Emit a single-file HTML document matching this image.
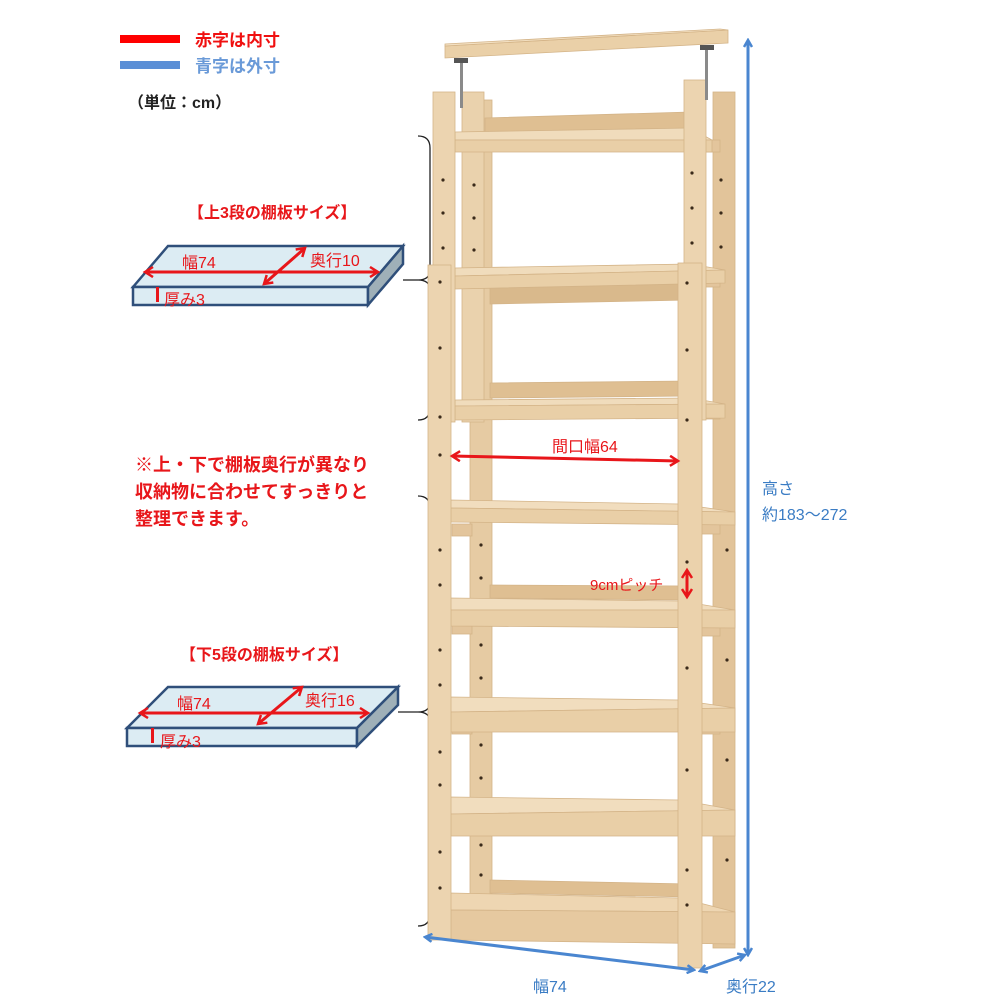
<!DOCTYPE html>
<html><head><meta charset="utf-8"><style>
html,body{margin:0;padding:0;background:#fff;}
svg{display:block;}
text{font-family:"Liberation Sans","Noto Sans CJK JP",sans-serif;}
</style></head><body>
<svg width="1000" height="1000" viewBox="0 0 1000 1000" xmlns="http://www.w3.org/2000/svg">
<defs>
<marker id="ab" markerWidth="10" markerHeight="10" refX="8" refY="5" orient="auto-start-reverse" markerUnits="userSpaceOnUse"><path d="M1,1 L8,5 L1,9" fill="none" stroke="#4a86d0" stroke-width="2.5"/></marker>
<marker id="ar" markerWidth="12" markerHeight="12" refX="9" refY="6" orient="auto-start-reverse" markerUnits="userSpaceOnUse"><path d="M1,1 L9,6 L1,11" fill="none" stroke="#e8161a" stroke-width="2.5"/></marker>
</defs>

<!-- legend -->
<rect x="120" y="35" width="60" height="8" fill="#f00"/>
<text x="195" y="46" font-size="17" font-weight="bold" fill="#f01010">赤字は内寸</text>
<rect x="120" y="61" width="60" height="8" fill="#5b8fd6"/>
<text x="195" y="72" font-size="17" font-weight="bold" fill="#6a9ad8">青字は外寸</text>
<text x="128" y="108" font-size="16" font-weight="bold" fill="#222">（単位：cm）</text>

<!-- upper board -->
<text x="188" y="218" font-size="16" font-weight="bold" fill="#e8161a">【上3段の棚板サイズ】</text>
<polygon points="133,287 168,246 403,246 368,287" fill="#dcecf3" stroke="#2f4f7a" stroke-width="2.5"/>
<polygon points="133,287 368,287 368,305 133,305" fill="#dcecf3" stroke="#2f4f7a" stroke-width="2.5"/>
<polygon points="368,287 403,246 403,264 368,305" fill="#9fb0b8" stroke="#2f4f7a" stroke-width="2.5"/>
<line x1="145" y1="272" x2="378" y2="272" stroke="#e8161a" stroke-width="3" marker-start="url(#ar)" marker-end="url(#ar)"/>
<line x1="264" y1="284" x2="305" y2="248" stroke="#e8161a" stroke-width="3" marker-start="url(#ar)" marker-end="url(#ar)"/>
<text x="182" y="268" font-size="16" fill="#e8161a">幅74</text>
<text x="310" y="266" font-size="16" fill="#e8161a">奥行10</text>
<rect x="156" y="287" width="3" height="15" fill="#e8161a"/>
<text x="164" y="305" font-size="16" fill="#e8161a">厚み3</text>
<path d="M418,136 Q430,136 430,148 L430,270 Q430,280 418,280 Q430,280 430,290 L430,408 Q430,420 418,420" fill="none" stroke="#222" stroke-width="1.3"/>
<line x1="403" y1="280" x2="418" y2="280" stroke="#222" stroke-width="1.3"/>

<!-- note -->
<text x="135" y="471" font-size="18" font-weight="bold" fill="#e8161a">※上・下で棚板奥行が異なり</text>
<text x="135" y="498" font-size="18" font-weight="bold" fill="#e8161a">収納物に合わせてすっきりと</text>
<text x="135" y="525" font-size="18" font-weight="bold" fill="#e8161a">整理できます。</text>

<!-- lower board -->
<text x="180" y="660" font-size="16" font-weight="bold" fill="#e8161a">【下5段の棚板サイズ】</text>
<polygon points="127,728 168,687 398,687 357,728" fill="#dcecf3" stroke="#2f4f7a" stroke-width="2.5"/>
<polygon points="127,728 357,728 357,746 127,746" fill="#dcecf3" stroke="#2f4f7a" stroke-width="2.5"/>
<polygon points="357,728 398,687 398,705 357,746" fill="#9fb0b8" stroke="#2f4f7a" stroke-width="2.5"/>
<line x1="140" y1="713" x2="368" y2="713" stroke="#e8161a" stroke-width="3" marker-start="url(#ar)" marker-end="url(#ar)"/>
<line x1="258" y1="724" x2="302" y2="687" stroke="#e8161a" stroke-width="3" marker-start="url(#ar)" marker-end="url(#ar)"/>
<text x="177" y="709" font-size="16" fill="#e8161a">幅74</text>
<text x="305" y="706" font-size="16" fill="#e8161a">奥行16</text>
<rect x="151" y="728" width="3" height="15" fill="#e8161a"/>
<text x="160" y="747" font-size="16" fill="#e8161a">厚み3</text>
<path d="M418,496 Q430,496 430,508 L430,702 Q430,712 418,712 Q430,712 430,722 L430,914 Q430,926 418,926" fill="none" stroke="#222" stroke-width="1.3"/>
<line x1="398" y1="712" x2="418" y2="712" stroke="#222" stroke-width="1.3"/>

<!-- SHELF -->
<g stroke="#d4b488" stroke-width="0.8">
<rect x="713" y="92" width="22" height="856" fill="#e2c49a"/>
<rect x="470" y="100" width="22" height="830" fill="#e6cba3"/>
<rect x="462" y="92" width="22" height="330" fill="#ead2ad"/>
<polygon points="485,118 690,112 690,128 485,134" fill="#dfbf92"/>
<polygon points="490,288 690,284 690,300 490,304" fill="#d9b98c"/>
<polygon points="490,383 690,381 690,396 490,398" fill="#dfbf92"/>
<polygon points="490,585 690,586 690,600 490,598" fill="#dfbf92"/>
<polygon points="490,880 690,884 690,897 490,893" fill="#dfbf92"/>
<g fill="#e3c59c">
<rect x="700" y="140" width="20" height="12"/>
<rect x="700" y="275" width="20" height="12"/>
<rect x="700" y="405" width="20" height="14"/>
<rect x="700" y="520" width="20" height="14"/>
<rect x="700" y="622" width="20" height="14"/>
<rect x="700" y="720" width="20" height="14"/>
<rect x="700" y="820" width="20" height="14"/>
<rect x="700" y="920" width="20" height="14"/>
<rect x="452" y="524" width="20" height="12"/>
<rect x="452" y="622" width="20" height="12"/>
<rect x="452" y="722" width="20" height="12"/>
<rect x="452" y="822" width="20" height="12"/>
<rect x="452" y="925" width="20" height="12"/>
</g>
<g>
<polygon points="455,132 690,128 712,140 455,140" fill="#f0dcbc"/>
<polygon points="455,140 712,140 712,152 455,152" fill="#e9cfa7"/>
<polygon points="455,268 690,264 725,270 455,276" fill="#f0dcbc"/>
<polygon points="455,276 725,270 725,283 455,289" fill="#e9cfa7"/>
<polygon points="455,400 690,398 725,404 455,406" fill="#f0dcbc"/>
<polygon points="455,406 725,404 725,418 455,420" fill="#e9cfa7"/>
<polygon points="450,500 680,504 735,512 450,508" fill="#f1ddbe"/>
<polygon points="450,508 735,512 735,525 450,522" fill="#e9cfa7"/>
<polygon points="450,598 680,601 735,610 450,610" fill="#f1ddbe"/>
<polygon points="450,610 735,610 735,628 450,626" fill="#e9cfa7"/>
<polygon points="450,697 680,700 735,708 450,712" fill="#f1ddbe"/>
<polygon points="450,712 735,708 735,732 450,732" fill="#e9cfa7"/>
<polygon points="450,797 680,800 735,810 450,814" fill="#f1ddbe"/>
<polygon points="450,814 735,810 735,836 450,836" fill="#e9cfa7"/>
<polygon points="450,893 680,898 735,912 450,910" fill="#eed6b2"/>
<polygon points="450,910 735,912 735,944 450,940" fill="#e6c9a0"/>
</g>
<rect x="433" y="92" width="22" height="330" fill="#ecd4b0"/>
<rect x="428" y="265" width="23" height="675" fill="#ecd4b0"/>
<rect x="684" y="80" width="22" height="340" fill="#ecd4b0"/>
<rect x="678" y="263" width="24" height="705" fill="#ebd2ac"/>
<polygon points="445,46 728,30 728,43 445,58" fill="#ead0a8"/>
<polygon points="445,46 728,30 720,29 445,44" fill="#f3e0c2"/>
</g>
<rect x="460" y="58" width="3" height="50" fill="#8a8a8a"/>
<rect x="705" y="45" width="3" height="55" fill="#8a8a8a"/>
<rect x="454" y="58" width="14" height="5" fill="#555"/>
<rect x="700" y="45" width="14" height="5" fill="#555"/>
<g fill="#3a2a1a">
<circle cx="443" cy="180" r="1.6"/><circle cx="443" cy="213" r="1.6"/><circle cx="443" cy="248" r="1.6"/>
<circle cx="440" cy="282" r="1.6"/><circle cx="440" cy="348" r="1.6"/><circle cx="440" cy="417" r="1.6"/>
<circle cx="440" cy="455" r="1.6"/><circle cx="440" cy="550" r="1.6"/><circle cx="440" cy="585" r="1.6"/>
<circle cx="440" cy="650" r="1.6"/><circle cx="440" cy="685" r="1.6"/><circle cx="440" cy="752" r="1.6"/>
<circle cx="440" cy="785" r="1.6"/><circle cx="440" cy="852" r="1.6"/><circle cx="440" cy="888" r="1.6"/>
<circle cx="474" cy="185" r="1.6"/><circle cx="474" cy="218" r="1.6"/><circle cx="474" cy="250" r="1.6"/>
<circle cx="481" cy="545" r="1.6"/><circle cx="481" cy="578" r="1.6"/><circle cx="481" cy="645" r="1.6"/>
<circle cx="481" cy="678" r="1.6"/><circle cx="481" cy="745" r="1.6"/><circle cx="481" cy="778" r="1.6"/>
<circle cx="481" cy="845" r="1.6"/><circle cx="481" cy="875" r="1.6"/>
<circle cx="692" cy="173" r="1.6"/><circle cx="692" cy="208" r="1.6"/><circle cx="692" cy="243" r="1.6"/>
<circle cx="687" cy="283" r="1.6"/><circle cx="687" cy="350" r="1.6"/><circle cx="687" cy="420" r="1.6"/>
<circle cx="687" cy="562" r="1.6"/><circle cx="687" cy="668" r="1.6"/><circle cx="687" cy="770" r="1.6"/>
<circle cx="687" cy="870" r="1.6"/><circle cx="687" cy="905" r="1.6"/>
<circle cx="721" cy="180" r="1.6"/><circle cx="721" cy="213" r="1.6"/><circle cx="721" cy="247" r="1.6"/>
<circle cx="727" cy="550" r="1.6"/><circle cx="727" cy="660" r="1.6"/><circle cx="727" cy="760" r="1.6"/><circle cx="727" cy="860" r="1.6"/>
</g>

<line x1="452" y1="456" x2="678" y2="461" stroke="#e8161a" stroke-width="3" marker-start="url(#ar)" marker-end="url(#ar)"/>
<text x="552" y="452" font-size="16" fill="#e8161a">間口幅64</text>
<line x1="687" y1="570" x2="687" y2="597" stroke="#e8161a" stroke-width="3" marker-start="url(#ar)" marker-end="url(#ar)"/>
<text x="590" y="590" font-size="15" fill="#e8161a">9cmピッチ</text>

<line x1="748" y1="40" x2="748" y2="955" stroke="#4a86d0" stroke-width="3" marker-start="url(#ab)" marker-end="url(#ab)"/>
<line x1="425" y1="937" x2="694" y2="970" stroke="#4a86d0" stroke-width="3" marker-start="url(#ab)" marker-end="url(#ab)"/>
<line x1="700" y1="971" x2="745" y2="955" stroke="#4a86d0" stroke-width="3" marker-start="url(#ab)" marker-end="url(#ab)"/>
<text x="762" y="494" font-size="16" fill="#3a7cc4">高さ</text>
<text x="762" y="520" font-size="16" fill="#3a7cc4">約183～272</text>
<text x="533" y="992" font-size="16" fill="#3a7cc4">幅74</text>
<text x="726" y="992" font-size="16" fill="#3a7cc4">奥行22</text>
</svg>
</body></html>
